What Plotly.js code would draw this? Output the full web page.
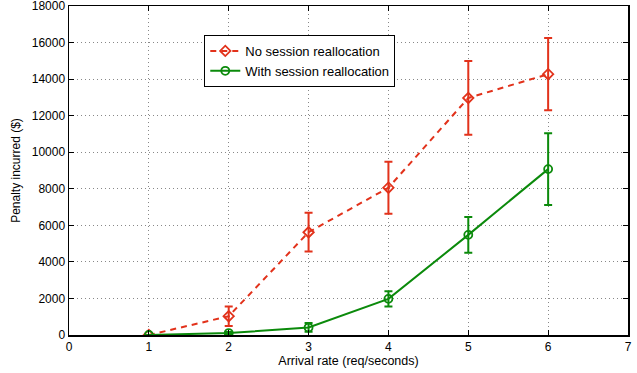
<!DOCTYPE html>
<html>
<head>
<meta charset="utf-8">
<script src="https://cdn.plot.ly/plotly-3.0.1.min.js"></script>
<style>html,body{margin:0;padding:0;background:#fff;}#chart{width:637px;height:373px;}</style>
</head>
<body>
<div id="chart"></div>
<script>
const arrivalRate = [1, 2, 3, 4, 5, 6];
const noReallocation = [0, 1027, 5622, 8060, 12970, 14270];
const noReallocationErr = [0, 530, 1060, 1420, 2020, 1980];
const withReallocation = [0, 108, 411, 1978, 5478, 9076];
const withReallocationErr = [0, 60, 240, 420, 980, 1960];
const seriesNames = ["No session reallocation", "With session reallocation"];

const red = "#e2321b";
const green = "#0b8a0b";

const traces = [
  {
    x: arrivalRate, y: noReallocation, name: seriesNames[0],
    type: "scatter", mode: "lines+markers",
    line: {color: red, width: 2, dash: "6px,5px"},
    marker: {symbol: "diamond-open", size: 8, color: red, line: {width: 1.8, color: red}},
    error_y: {type: "data", array: noReallocationErr, visible: true, color: red, thickness: 2, width: 4}
  },
  {
    x: arrivalRate, y: withReallocation, name: seriesNames[1],
    type: "scatter", mode: "lines+markers",
    line: {color: green, width: 2},
    marker: {symbol: "circle-open", size: 8, color: green, line: {width: 1.8, color: green}},
    error_y: {type: "data", array: withReallocationErr, visible: true, color: green, thickness: 2, width: 4}
  }
];

const axisCommon = {
  showline: true, linecolor: "#000", linewidth: 1.5, mirror: "allticks",
  ticks: "inside", ticklen: 5, tickcolor: "#000", tickwidth: 1,
  showgrid: true, gridcolor: "#888888", gridwidth: 1, griddash: "1px,3px",
  zeroline: false, ticklabeloverflow: "allow",
  tickfont: {family: "Liberation Sans, Arial, sans-serif", size: 12, color: "#000"}
};

const layout = {
  width: 637, height: 373,
  margin: {l: 69, r: 9, t: 6, b: 38},
  paper_bgcolor: "#fff", plot_bgcolor: "#fff",
  showlegend: true,
  legend: {
    x: 0.242, y: 0.912, xanchor: "left", yanchor: "top",
    bgcolor: "#fff", bordercolor: "#000", borderwidth: 1,
    font: {family: "Liberation Sans, Arial, sans-serif", size: 13, color: "#000"},
    tracegroupgap: 0, itemwidth: 30
  },
  xaxis: Object.assign({}, axisCommon, {
    range: [0, 7], dtick: 1, tick0: 0,
    title: {text: "Arrival rate (req/seconds)", standoff: 2,
            font: {family: "Liberation Sans, Arial, sans-serif", size: 12.5, color: "#000"}}
  }),
  yaxis: Object.assign({}, axisCommon, {
    range: [0, 18000], dtick: 2000, tick0: 0, tickformat: "d",
    title: {text: "Penalty incurred ($)", standoff: 8,
            font: {family: "Liberation Sans, Arial, sans-serif", size: 12, color: "#000"}}
  })
};

Plotly.newPlot("chart", traces, layout, {displayModeBar: false, staticPlot: true});
</script>
</body>
</html>
